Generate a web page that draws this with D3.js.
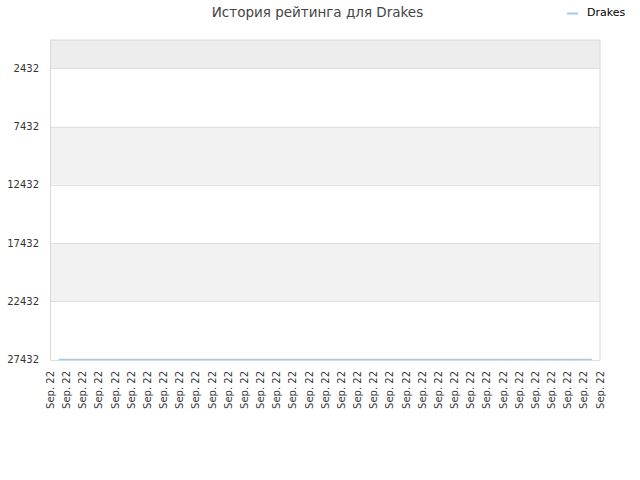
<!DOCTYPE html>
<html><head><meta charset="utf-8">
<script src="https://cdn.jsdelivr.net/npm/d3@7"></script>
<style>body{margin:0;background:#fff}svg{display:block}</style>
</head><body>
<script>
const title = "История рейтинга для Drakes";
const seriesName = "Drakes";
const xTickLabels = Array.from({length:35}, () => "Sep. 22");
const rankValues = [27432,27432,27432,27432,27432,27432,27432,27432,27432,27432,27432,27432,27432,27432,27432,27432,27432,27432,27432,27432,27432,27432,27432,27432,27432,27432,27432,27432,27432,27432,27432,27432,27432,27432];
const yTicks = [2432,7432,12432,17432,22432,27432];
const yBands = [[0,2432],[7432,12432],[17432,22432]];

const W=640,H=480, L=50.5, R=600, T=40, B=359.5;
const svg = d3.select("body").append("svg").attr("width",W).attr("height",H);
const font = "DejaVu Sans, sans-serif";

const y = d3.scaleLinear().domain([0,27432]).range([T,B]);
const xTick = d3.scaleLinear().domain([0,xTickLabels.length-1]).range([L,R]);
const xPt = d3.scalePoint().domain(d3.range(rankValues.length)).range([L,R]).padding(0.5);

svg.selectAll("rect.band").data(yBands).join("rect")
  .attr("x",L).attr("width",R-L)
  .attr("y",d=>y(d[0])).attr("height",d=>y(d[1])-y(d[0]))
  .attr("fill",(d,i)=>i===0?"#ededed":"#f2f2f2");

svg.selectAll("line.grid").data(yTicks).join("line")
  .attr("x1",L).attr("x2",R).attr("y1",d=>Math.round(y(d))+0.5).attr("y2",d=>Math.round(y(d))+0.5)
  .attr("stroke","#e0e0e0").attr("stroke-width",1);

// border
svg.append("path").attr("d",`M${L},${B}V${T}H${R}V${B+1}`).attr("fill","none").attr("stroke","#d8d8d8");

svg.selectAll("text.yl").data(yTicks).join("text")
  .attr("x",39).attr("y",d=>y(d)+3.5).attr("text-anchor","end")
  .attr("font-family",font).attr("font-size",10).attr("fill","#333").text(d=>d);

svg.selectAll("text.xl").data(xTickLabels).join("text")
  .attr("transform",(d,i)=>`translate(${xTick(i)+3.5},371) rotate(-90)`)
  .attr("text-anchor","end")
  .attr("font-family",font).attr("font-size",10).attr("fill","#333").text(d=>d);

const line = d3.line().x((d,i)=>xPt(i)).y(d=>y(d));
svg.append("path").datum(rankValues).attr("d",line).attr("fill","none")
  .attr("stroke","#a6c8ee").attr("stroke-width",1.5);

svg.append("text").attr("x",317.5).attr("y",17).attr("text-anchor","middle")
  .attr("font-family",font).attr("font-size",13.5).attr("fill","#444").text(title);

svg.append("line").attr("x1",567).attr("x2",578).attr("y1",13.5).attr("y2",13.5)
  .attr("stroke","#a6c8ee").attr("stroke-width",2);
svg.append("text").attr("x",587).attr("y",16).attr("font-family",font).attr("font-size",11)
  .attr("fill","#000").text(seriesName);
</script>
</body></html>
